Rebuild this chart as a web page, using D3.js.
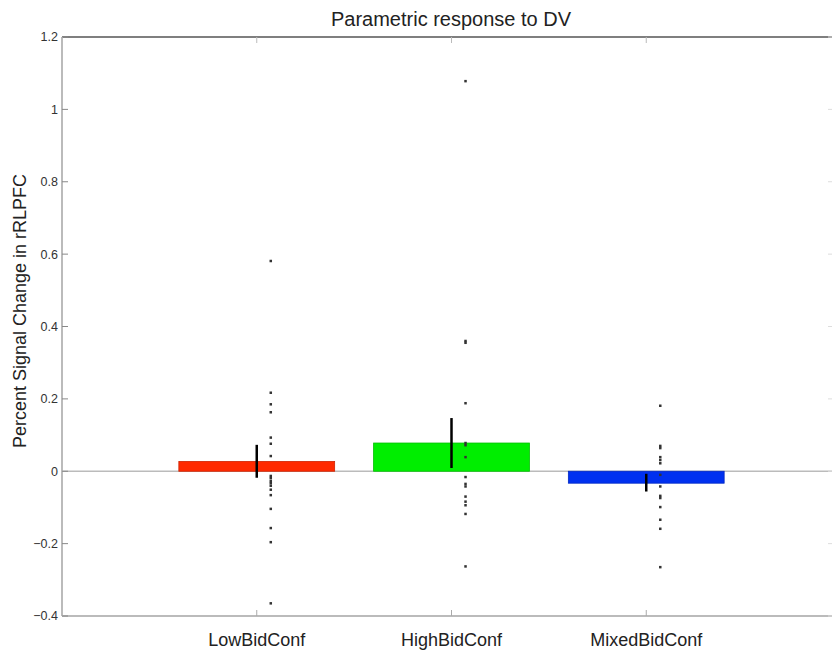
<!DOCTYPE html>
<html lang="en">
<head>
    <meta charset="UTF-8">
    <title>Parametric response to DV</title>
    <script src="https://d3js.org/d3.v7.min.js"></script>
    <style>
        body {
            margin: 0;
            background-color: #fff;
            font-family: "Liberation Sans", Arial, Helvetica, sans-serif;
        }
        .tick-label { font-size: 12.5px; fill: #333; }
        .cat-label { font-size: 18px; fill: #222; }
    </style>
</head>
<body>
    <svg id="chart" width="832" height="650"></svg>
    <script>
        // Conditions and bar means
        const categories = ["LowBidConf", "HighBidConf", "MixedBidConf"];
        const means = [0.027, 0.078, -0.033];
        const errTop = [0.073, 0.147, -0.007];
        const errBottom = [-0.018, 0.009, -0.056];
        const barColors = ["#ff2a00", "#00ee00", "#0030f0"];

        // Individual subject values per condition
        const lowPoints = [0.581, 0.217, 0.185, 0.163, 0.093, 0.076, 0.042, -0.013, -0.019, -0.027,
            -0.033, -0.040, -0.051, -0.066, -0.104, -0.157, -0.196, -0.365];
        const highPoints = [1.078, 0.360, 0.355, 0.188, 0.078, 0.072, 0.039, -0.016, -0.035, -0.042,
            -0.070, -0.084, -0.094, -0.118, -0.263];
        const mixedPoints = [0.181, 0.070, 0.064, 0.039, 0.031, 0.022, -0.010, -0.042, -0.068, -0.074,
            -0.099, -0.134, -0.159, -0.265];
        const pointSets = [lowPoints, highPoints, mixedPoints];

        const yTicks = [1.2, 1, 0.8, 0.6, 0.4, 0.2, 0, -0.2, -0.4];

        const svg = d3.select("#chart");
        const plotLeft = 62, plotRight = 841, plotTop = 37, plotBottom = 616;

        const x = d3.scaleLinear().domain([0, 4]).range([plotLeft, plotRight]);
        const y = d3.scaleLinear().domain([-0.4, 1.2]).range([plotBottom, plotTop]);

        // zero line
        svg.append("line")
            .attr("x1", plotLeft).attr("x2", 832)
            .attr("y1", y(0)).attr("y2", y(0))
            .attr("stroke", "#bbb").attr("stroke-width", 1.5);

        // bars
        const barW = x(0.8) - x(0);
        svg.selectAll(".bar")
            .data(means)
            .enter()
            .append("rect")
            .attr("class", "bar")
            .attr("x", (d, i) => x(i + 1) - barW / 2)
            .attr("width", barW)
            .attr("y", d => y(Math.max(0, d)))
            .attr("height", d => Math.abs(y(d) - y(0)))
            .attr("fill", (d, i) => barColors[i])
            .attr("stroke", (d, i) => d3.color(barColors[i]).darker(0.6))
            .attr("stroke-width", 0.8);

        // error bars
        svg.selectAll(".err")
            .data(means)
            .enter()
            .append("line")
            .attr("class", "err")
            .attr("x1", (d, i) => x(i + 1))
            .attr("x2", (d, i) => x(i + 1))
            .attr("y1", (d, i) => y(errTop[i]))
            .attr("y2", (d, i) => y(errBottom[i]))
            .attr("stroke", "#000")
            .attr("stroke-width", 2.5);

        // subject dots
        pointSets.forEach((pts, i) => {
            svg.selectAll(".dot-" + i)
                .data(pts)
                .enter()
                .append("rect")
                .attr("class", "dot-" + i)
                .attr("x", x(i + 1.072) - 1.25)
                .attr("y", d => y(d) - 1.25)
                .attr("width", 2.5)
                .attr("height", 2.5)
                .attr("fill", "#333");
        });

        // frame: top dark, left/bottom gray
        svg.append("line")
            .attr("x1", plotLeft).attr("x2", 832).attr("y1", plotTop).attr("y2", plotTop)
            .attr("stroke", "#555").attr("stroke-width", 1.5);
        svg.append("line")
            .attr("x1", plotLeft).attr("x2", plotLeft).attr("y1", plotTop).attr("y2", plotBottom)
            .attr("stroke", "#bbb").attr("stroke-width", 2);
        svg.append("line")
            .attr("x1", plotLeft).attr("x2", 832).attr("y1", plotBottom).attr("y2", plotBottom)
            .attr("stroke", "#bbb").attr("stroke-width", 2);

        // y ticks and labels
        const yg = svg.append("g");
        yTicks.forEach(t => {
            yg.append("line")
                .attr("x1", plotLeft).attr("x2", plotLeft + 6)
                .attr("y1", y(t)).attr("y2", y(t))
                .attr("stroke", "#888").attr("stroke-width", 1);
            yg.append("line")
                .attr("x1", 828).attr("x2", 834)
                .attr("y1", y(t)).attr("y2", y(t))
                .attr("stroke", "#ddd").attr("stroke-width", 1);
            yg.append("text")
                .attr("class", "tick-label")
                .attr("x", plotLeft - 4)
                .attr("y", y(t))
                .attr("dy", "0.35em")
                .attr("text-anchor", "end")
                .text(t < 0 ? "\u2212" + Math.abs(t) : t);
        });

        // x ticks (inward on top and bottom) and labels
        categories.forEach((c, i) => {
            svg.append("line")
                .attr("x1", x(i + 1)).attr("x2", x(i + 1))
                .attr("y1", plotBottom).attr("y2", plotBottom - 6)
                .attr("stroke", "#aaa");
            svg.append("line")
                .attr("x1", x(i + 1)).attr("x2", x(i + 1))
                .attr("y1", plotTop).attr("y2", plotTop + 6)
                .attr("stroke", "#bbb");
            svg.append("text")
                .attr("class", "cat-label")
                .attr("x", x(i + 1))
                .attr("y", 646)
                .attr("text-anchor", "middle")
                .text(c);
        });

        // title
        svg.append("text")
            .attr("x", 451)
            .attr("y", 26)
            .attr("text-anchor", "middle")
            .attr("font-size", 20)
            .attr("fill", "#222")
            .text("Parametric response to DV");

        // y axis label
        svg.append("text")
            .attr("transform", "translate(26," + 311 + ") rotate(-90)")
            .attr("text-anchor", "middle")
            .attr("font-size", 18)
            .attr("fill", "#222")
            .text("Percent Signal Change in rRLPFC");
    </script>
</body>
</html>
